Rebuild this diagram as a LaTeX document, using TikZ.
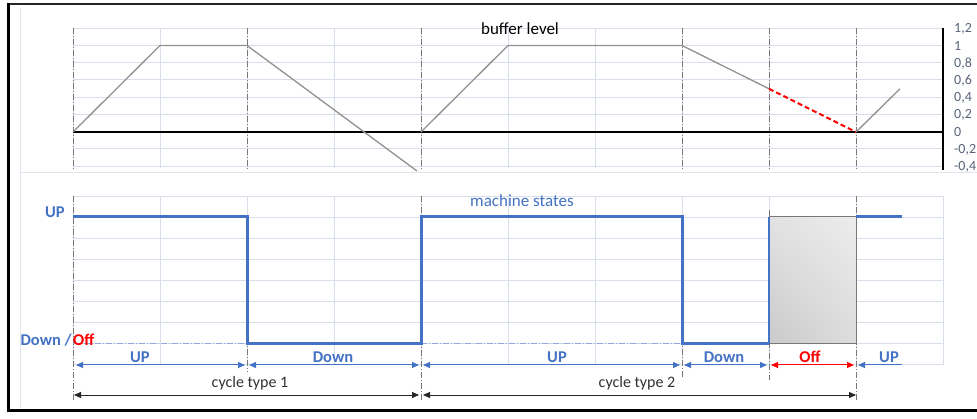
\documentclass[tikz,border=0pt]{standalone}
\usepackage{fontspec}
\setmainfont{Carlito}
\usetikzlibrary{arrows.meta,shadings}
\definecolor{gridc}{RGB}{217,223,234}
\definecolor{dataline}{RGB}{145,145,145}
\definecolor{sigblue}{RGB}{68,114,196}
\definecolor{lightblue}{RGB}{143,170,220}
\definecolor{tickc}{RGB}{89,100,122}
\definecolor{dashc}{RGB}{120,120,120}
\definecolor{cellc}{RGB}{225,230,238}
\definecolor{txtc}{RGB}{50,50,50}
\definecolor{boxll}{RGB}{202,202,202}
\definecolor{boxur}{RGB}{236,236,236}
\definecolor{boxlr}{RGB}{220,220,220}
\definecolor{boxul}{RGB}{226,226,226}
\definecolor{boxedge}{RGB}{120,120,120}
\tikzset{
  gridline/.style={draw=gridc, line width=0.8pt},
  cellline/.style={draw=cellc, line width=0.8pt},
  dashdot/.style={draw=dashc, line width=1pt, dash pattern=on 6pt off 2pt on 1pt off 2pt},
  bluedashdot/.style={draw=lightblue, line width=1pt, dash pattern=on 6pt off 2pt on 1pt off 2pt},
  curve/.style={draw=dataline, line width=1.3pt},
  signal/.style={draw=sigblue, line width=3pt},
  bluearrow/.style={draw=sigblue, line width=1pt},
  redarrow/.style={draw=red, line width=1pt},
  blackarrow/.style={draw=black!85, line width=1pt},
  ticklabel/.style={anchor=west, text=tickc, font=\fontsize{14}{14}\selectfont, inner sep=0pt},
  statelabel/.style={text=sigblue, font=\fontsize{16.5}{16.5}\selectfont\bfseries, inner sep=0pt},
  cyclelabel/.style={text=txtc, font=\fontsize{16}{16}\selectfont, inner sep=0pt},
}
\begin{document}
\begin{tikzpicture}[x=1pt,y=-1pt]
\useasboundingbox (0,0) rectangle (977,419);
\fill[white] (0,0) rectangle (977,419);
% faint spreadsheet cell lines
\draw[cellline] (20,8) -- (20,408);
\draw[cellline] (20,172) -- (977,172);
% ---------------- top chart: buffer level ----------------
\foreach \x in {73,160,...,943} \draw[gridline] (\x,28) -- (\x,168);
\foreach \i in {0,...,8} \draw[gridline] (73,28+\i*17.25) -- (943,28+\i*17.25);
\foreach \x in {73,247,421,682,769,856} \draw[dashdot] (\x,28) -- (\x,170);
\draw[black, line width=1.8pt] (73,132) -- (943,132);
\draw[black, line width=2.5pt] (943,28) -- (943,170);
\foreach \v [count=\i from 0] in {{1,2},1,{0,8},{0,6},{0,4},{0,2},0,{-0,2},{-0,4}}
  \node[ticklabel] (t\i) at (954,29+\i*17.25) {\v};
\node[font=\fontsize{17}{17}\selectfont, inner sep=0pt] (buf) at (520,29) {buffer level};
\coordinate (b0) at (73,132);
\coordinate (b1) at (160,45.5);
\coordinate (b2) at (247,45.5);
\coordinate (b3) at (417,171);
\coordinate (b4) at (421,132);
\coordinate (b5) at (508,45.5);
\coordinate (b6) at (682,45.5);
\coordinate (b7) at (769,88.8);
\coordinate (b8) at (856,132);
\coordinate (b9) at (900,88.8);
\draw[curve] (b0) -- (b1) -- (b2) -- (b3);
\draw[curve] (b4) -- (b5) -- (b6) -- (b7);
\draw[red, line width=2pt, dash pattern=on 5pt off 3pt] (b7) -- (b8);
\draw[curve] (b8) -- (b9);
% ---------------- bottom chart: machine states ----------------
\foreach \x in {73,160,...,943} \draw[gridline] (\x,196) -- (\x,365);
\foreach \i in {0,...,8} \draw[gridline] (73,196+\i*21.1) -- (943,196+\i*21.1);
\shade[lower left=boxll, upper right=boxur, lower right=boxlr, upper left=boxul]
  (769,217) rectangle (856,344);
\draw[draw=boxedge, line width=1pt] (769,217) rectangle (856,344);
\draw[dashdot] (73,196) -- (73,400);
\draw[dashdot] (247,217) -- (247,372);
\draw[dashdot] (421,196) -- (421,400);
\draw[dashdot] (682,217) -- (682,378);
\draw[dashdot] (769,210) -- (769,380);
\draw[dashdot] (856,196) -- (856,400);
\draw[bluedashdot] (73,344) -- (247,344);
\draw[bluedashdot] (421,344) -- (682,344);
\coordinate (s0) at (73,217);
\coordinate (s1) at (247,217);
\coordinate (s2) at (247,344);
\coordinate (s3) at (421,344);
\coordinate (s4) at (421,217);
\coordinate (s5) at (682,217);
\coordinate (s6) at (682,344);
\coordinate (s7) at (769,344);
\coordinate (s8) at (769,217);
\coordinate (s9) at (856,217);
\coordinate (s10) at (902,217);
\draw[signal, line join=miter] (s0) -- (s1) -- (s2) -- (s3) -- (s4) -- (s5) -- (s6) -- (s7);
\draw[draw=sigblue, line width=2pt] (s7) -- (s8);
\draw[signal] (s9) -- (s10);
\node[text=sigblue, font=\fontsize{17}{17}\selectfont, inner sep=0pt] (ms) at (522,201) {machine states};
\node[statelabel] (lup) at (55,212) {UP};
\node[statelabel, anchor=east] (ldown) at (72,340) {Down /};
\node[statelabel, anchor=west, text=red] (loff) at (73,340) {Off};
% blue duration arrows
\coordinate (a0) at (76,365);
\coordinate (a1) at (245,365);
\coordinate (a2) at (249,365);
\coordinate (a3) at (419,365);
\coordinate (a4) at (423,365);
\coordinate (a5) at (680,365);
\coordinate (a6) at (684,365);
\coordinate (a7) at (767,365);
\coordinate (a8) at (771,365);
\coordinate (a9) at (854,365);
\coordinate (a10) at (858,365);
\coordinate (a11) at (902,365);
\draw[bluearrow, {Triangle[length=7pt,width=6pt]}-{Triangle[length=7pt,width=6pt]}] (a0) -- (a1);
\draw[bluearrow, {Triangle[length=7pt,width=6pt]}-{Triangle[length=7pt,width=6pt]}] (a2) -- (a3);
\draw[bluearrow, {Triangle[length=7pt,width=6pt]}-{Triangle[length=7pt,width=6pt]}] (a4) -- (a5);
\draw[bluearrow, {Triangle[length=7pt,width=6pt]}-{Triangle[length=7pt,width=6pt]}] (a6) -- (a7);
\draw[redarrow, {Triangle[length=7pt,width=6pt]}-{Triangle[length=7pt,width=6pt]}] (a8) -- (a9);
\draw[bluearrow, {Triangle[length=7pt,width=6pt]}-] (a10) -- (a11);
\node[statelabel] (u1) at (140,357) {UP};
\node[statelabel] (d1) at (333,357) {Down};
\node[statelabel] (u2) at (557,357) {UP};
\node[statelabel] (d2) at (724,357) {Down};
\node[statelabel, text=red] (o1) at (810,357) {Off};
\node[statelabel] (u3) at (889,357) {UP};
% cycle arrows
\coordinate (c0) at (74,395);
\coordinate (c1) at (419,395);
\coordinate (c2) at (423,395);
\coordinate (c3) at (856,395);
\draw[blackarrow, {Triangle[length=7pt,width=6pt]}-{Triangle[length=7pt,width=6pt]}] (c0) -- (c1);
\draw[blackarrow, {Triangle[length=7pt,width=6pt]}-{Triangle[length=7pt,width=6pt]}] (c2) -- (c3);
\node[cyclelabel] (cy1) at (250,383) {cycle type 1};
\node[cyclelabel] (cy2) at (637,383) {cycle type 2};
% outer frame
\draw[black!85, line width=2pt] (7,4) -- (977,4);
\draw[black, line width=3pt] (8.5,3) -- (8.5,411.5);
\draw[black, line width=3pt] (7,410.5) -- (977,410.5);
\end{tikzpicture}
\end{document}
